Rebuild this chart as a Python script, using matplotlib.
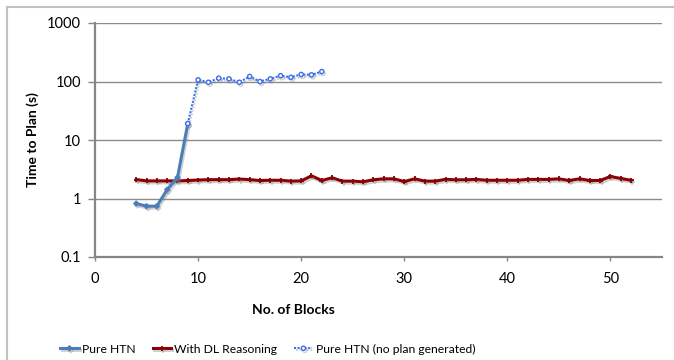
import matplotlib
matplotlib.use("Agg")
from matplotlib import pyplot as plt
from matplotlib.lines import Line2D
import matplotlib.patheffects as pe

plt.rcParams['font.family'] = ['Lato', 'DejaVu Sans']

# Pure HTN (plan found)
htn_blocks = [4, 5, 6, 7, 8, 9]
htn_time = [0.82, 0.74, 0.74, 1.42, 2.28, 19.1]

# Pure HTN, no plan generated
noplan_blocks = [9, 10, 11, 12, 13, 14, 15, 16, 17, 18, 19, 20, 21, 22]
noplan_time = [19.1, 107, 97, 114, 111, 97, 122, 100, 111, 126, 118, 132, 130, 148]

# With DL reasoning
dl_blocks = list(range(4, 53))
dl_time = [2.11, 2.0, 2.0, 2.0, 2.0, 2.03, 2.07, 2.1, 2.1, 2.1,
           2.15, 2.1, 2.03, 2.05, 2.05, 1.98, 2.0, 2.44, 2.03, 2.26,
           1.98, 1.98, 1.93, 2.09, 2.17, 2.17, 1.95, 2.17, 1.98, 1.98,
           2.12, 2.09, 2.09, 2.12, 2.05, 2.05, 2.05, 2.05, 2.12, 2.12,
           2.12, 2.17, 2.03, 2.17, 2.03, 2.03, 2.38, 2.2, 2.05]

x_ticks = [0, 10, 20, 30, 40, 50]
y_ticks = [0.1, 1, 10, 100, 1000]
y_ticklabels = ['0.1', '1', '10', '100', '1000']

fig = plt.figure(figsize=(6.74, 3.6), dpi=100)
ax = fig.add_axes([95 / 674, 1 - 257 / 360, (662 - 95) / 674, (257 - 23) / 360])

shadow = [pe.SimpleLineShadow(offset=(1, -1.5), shadow_color='gray', alpha=0.35), pe.Normal()]

ax.plot(htn_blocks, htn_time, color='#4a7ebb', lw=2.2, marker='D', ms=2.5,
        label='Pure HTN', path_effects=shadow, zorder=4)
ax.plot(dl_blocks, dl_time, color='#8b0000', lw=2.2, marker='+', ms=3.5, mew=1.3,
        label='With DL Reasoning', path_effects=shadow, zorder=3)
ax.plot(noplan_blocks, noplan_time, color='#3a6ff0', lw=1.5, ls=(0, (1, 0.7)),
        marker='o', ms=3, mfc='white', mew=1.0,
        label='Pure HTN (no plan generated)', path_effects=shadow, zorder=5)

ax.set_yscale('log')
ax.set_ylim(0.1, 1000)
ax.set_xlim(0, 55)
ax.set_xticks(x_ticks)
ax.set_yticks(y_ticks)
ax.set_yticklabels(y_ticklabels)
ax.minorticks_off()
ax.tick_params(axis='y', length=5, width=1, color='#868686', labelsize=10.5, pad=5)
ax.tick_params(axis='x', length=3, width=1, color='#868686', labelsize=10.5, pad=8)

ax.grid(axis='y', color='#8c8c8c', lw=1)
ax.set_axisbelow(True)
for s in ['top', 'right']:
    ax.spines[s].set_visible(False)
for s in ['left', 'bottom']:
    ax.spines[s].set_color('#868686')
    ax.spines[s].set_linewidth(1.6)

fig.text(33 / 674, 1 - 140 / 360, 'Time to Plan (s)', rotation=90, fontweight='bold',
         fontsize=10, ha='center', va='center')
fig.text(293 / 674, 1 - 310 / 360, 'No. of Blocks', fontweight='bold',
         fontsize=10, ha='center', va='center')

fig.legend(loc='center', bbox_to_anchor=(268 / 674, 1 - 349 / 360), ncol=3, frameon=False,
           fontsize=8.7, handlelength=1.5, handletextpad=0.3, columnspacing=1.4)

# outer chart frame (left and top edges)
fig.add_artist(Line2D([7 / 674, 7 / 674], [0, 1 - 7 / 360], color='#c0c0c0', lw=1.5))
fig.add_artist(Line2D([7 / 674, 1], [1 - 7 / 360, 1 - 7 / 360], color='#c0c0c0', lw=1.5))

fig.savefig('out.png', dpi=100)
